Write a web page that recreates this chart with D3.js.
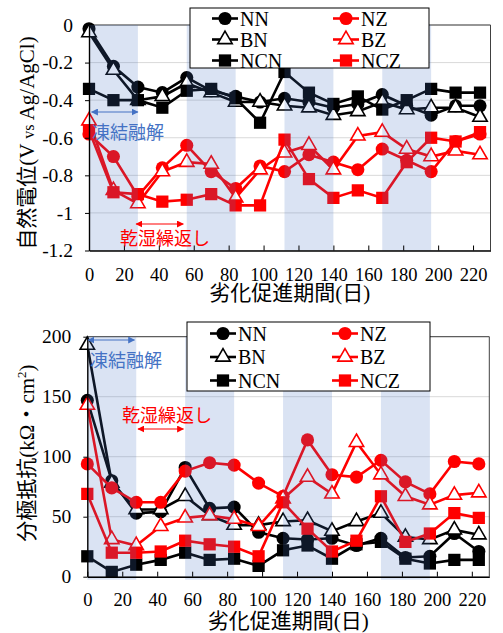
<!DOCTYPE html>
<html>
<head>
<meta charset="utf-8">
<script src="https://cdn.jsdelivr.net/npm/d3@7"></script>
<style>
body { margin: 0; background: #fff; }
svg { display: block; }
</style>
</head>
<body>
<svg id="chart" width="503" height="633"></svg>
<script>
// days of accelerated deterioration
const days = [0, 14, 28, 42, 56, 70, 84, 98, 112, 126, 140, 154, 168, 182, 196, 210, 224]
const seriesNames = ['NN', 'BN', 'NCN', 'NZ', 'BZ', 'NCZ']

// natural potential (V vs Ag/AgCl)
const potNN = [-0.02, -0.22, -0.33, -0.36, -0.28, -0.35, -0.38, -0.41, -0.39, -0.41, -0.44, -0.42, -0.37, -0.43, -0.48, -0.43, -0.43]
const potBN = [-0.04, -0.24, -0.40, -0.38, -0.31, -0.36, -0.41, -0.41, -0.43, -0.44, -0.48, -0.46, -0.41, -0.45, -0.44, -0.44, -0.49]
const potNCN = [-0.34, -0.40, -0.40, -0.44, -0.35, -0.34, -0.39, -0.52, -0.25, -0.36, -0.42, -0.38, -0.45, -0.40, -0.34, -0.36, -0.36]
const potNZ = [-0.58, -0.70, -0.91, -0.76, -0.64, -0.78, -0.87, -0.75, -0.78, -0.69, -0.73, -0.77, -0.66, -0.72, -0.78, -0.62, -0.58]
const potBZ = [-0.51, -0.88, -0.95, -0.78, -0.73, -0.74, -0.92, -0.77, -0.68, -0.64, -0.77, -0.59, -0.57, -0.66, -0.70, -0.67, -0.69]
const potNCZ = [-0.56, -0.89, -0.90, -0.94, -0.93, -0.90, -0.96, -0.96, -0.61, -0.82, -0.92, -0.88, -0.92, -0.73, -0.60, -0.62, -0.57]

// polarization resistance (kΩ・cm²)
const resNN = [147, 80, 53, 54, 91, 57, 58, 37, 32, 31, 32, 26, 32, 16, 17, 36, 21]
const resBN = [193, 78, 56, 56, 67, 51, 43, 43, 46, 47, 38, 46, 53, 33, 31, 39, 35]
const resNCN = [17, 4, 10, 14, 20, 14, 15, 9, 22, 26, 15, 27, 29, 15, 11, 14, 14]
const resNZ = [94, 74, 62, 62, 88, 95, 93, 78, 67, 114, 85, 83, 97, 79, 69, 96, 94]
const resBZ = [143, 31, 26, 42, 49, 51, 48, 42, 65, 83, 69, 112, 85, 67, 60, 68, 70]
const resNCZ = [69, 20, 20, 21, 30, 27, 25, 17, 62, 40, 21, 30, 67, 29, 36, 53, 49]

const xTicks = [0, 20, 40, 60, 80, 100, 120, 140, 160, 180, 200, 220]
const potTicks = [0, -0.2, -0.4, -0.6, -0.8, -1, -1.2]
const resTicks = [0, 50, 100, 150, 200]
const cycleBands = [[0, 28], [56, 84], [112, 140], [168, 196]]

const serif = '"Liberation Serif", "Times New Roman", serif'
const cjk = '"Noto Sans CJK JP", "Noto Sans", sans-serif'
const blue = '#4472C4'
const red = '#FF0000'

const seriesStyle = {
	NN: { color: '#000', shape: 'circle' },
	BN: { color: '#000', shape: 'triangle' },
	NCN: { color: '#000', shape: 'square' },
	NZ: { color: red, shape: 'circle' },
	BZ: { color: red, shape: 'triangle' },
	NCZ: { color: red, shape: 'square' }
}

const svg = d3.select('#chart')

const defs = svg.append('defs')
;[['arrBlue', blue], ['arrRed', red]].forEach(([id, c]) => {
	defs.append('marker').attr('id', id)
		.attr('viewBox', '0 0 10 10').attr('refX', 9).attr('refY', 5)
		.attr('markerWidth', 7).attr('markerHeight', 7)
		.attr('markerUnits', 'userSpaceOnUse')
		.attr('orient', 'auto-start-reverse')
		.append('path').attr('d', 'M0,0 L10,5 L0,10 Z').attr('fill', c)
})

function symbolPath(shape) {
	if (shape === 'circle') return d3.symbol(d3.symbolCircle, 135)()
	if (shape === 'square') return d3.symbol(d3.symbolSquare, 150)()
	return d3.symbol(d3.symbolTriangle, 90)()
}

function drawMarker(sel, name) {
	const st = seriesStyle[name]
	sel.attr('d', symbolPath(st.shape))
		.attr('fill', st.shape === 'triangle' ? '#fff' : st.color)
		.attr('stroke', st.color)
		.attr('stroke-width', st.shape === 'triangle' ? 1.6 : 0)
}

function drawPanel(cfg) {
	const g = svg.append('g')
	const x = d3.scaleLinear().domain([0, 230]).range([cfg.left, cfg.right])
	const y = d3.scaleLinear().domain(cfg.yDomain).range([cfg.bottom, cfg.top])

	// grid
	g.append('g').selectAll('line').data(cfg.yTicks).join('line')
		.attr('x1', cfg.left).attr('x2', cfg.right)
		.attr('y1', d => y(d)).attr('y2', d => y(d))
		.attr('stroke', '#D9D9D9').attr('stroke-width', 1)

	// frame top / right
	g.append('path')
		.attr('d', `M${cfg.left},${cfg.top}H${cfg.right}V${cfg.bottom}`)
		.attr('fill', 'none').attr('stroke', '#404040').attr('stroke-width', 1)

	const line = d3.line().x((d, i) => x(days[i])).y(d => y(d))

	seriesNames.forEach((name, k) => {
		const vals = cfg.series[k]
		const st = seriesStyle[name]
		g.append('path').datum(vals)
			.attr('d', line)
			.attr('fill', 'none').attr('stroke', st.color).attr('stroke-width', 2.6)
		g.append('g').selectAll('path').data(vals).join('path')
			.attr('transform', (d, i) => `translate(${x(days[i])},${y(d)})`)
			.call(drawMarker, name)
	})

	// freeze-thaw periods (translucent overlay)
	g.append('g').selectAll('rect').data(cycleBands).join('rect')
		.attr('x', d => x(d[0])).attr('width', d => x(d[1]) - x(d[0]))
		.attr('y', cfg.top).attr('height', cfg.bottom - cfg.top + cfg.bandExtra)
		.attr('fill', 'rgb(68,114,196)').attr('fill-opacity', 0.2)

	// axes
	const xAxis = g.append('g').attr('transform', `translate(0,${cfg.bottom})`)
		.call(d3.axisBottom(x).tickValues(xTicks).tickSize(-5).tickSizeOuter(0).tickPadding(cfg.xPad))
	const yAxis = g.append('g').attr('transform', `translate(${cfg.left},0)`)
		.call(d3.axisLeft(y).tickValues(cfg.yTicks).tickSize(4).tickSizeOuter(0).tickPadding(12)
			.tickFormat(cfg.yFormat))
	;[xAxis, yAxis].forEach(a => {
		a.attr('font-family', null).attr('font-size', null)
		a.selectAll('path.domain').attr('stroke', '#000').attr('stroke-width', 1.4)
		a.selectAll('.tick line').attr('stroke', '#000').attr('stroke-width', 1)
		a.selectAll('text').style('font-family', serif).attr('fill', '#000')
	})
	xAxis.selectAll('text').style('font-size', '18.5px')
	yAxis.selectAll('text').style('font-size', '19.5px')

	// axis titles
	const xt = g.append('text')
		.attr('x', (cfg.left + cfg.right) / 2).attr('y', cfg.xTitleY)
		.attr('text-anchor', 'middle').style('font-size', '21px').attr('fill', '#000')
	xt.append('tspan').style('font-family', cjk).text('劣化促進期間')
	xt.append('tspan').style('font-family', serif).text('(')
	xt.append('tspan').style('font-family', cjk).text('日')
	xt.append('tspan').style('font-family', serif).text(')')

	const yt = g.append('text')
		.attr('transform', `translate(34,${cfg.yTitleY}) rotate(-90)`)
		.attr('text-anchor', 'middle').style('font-size', '21px').attr('fill', '#000')
	cfg.yTitle.forEach(p => {
		const t = yt.append('tspan').style('font-family', p.cjk ? cjk : serif).text(p.t)
		if (p.size) t.style('font-size', p.size + 'px')
		if (p.dy) t.attr('dy', p.dy)
	})

	// legend
	const lg = cfg.legend
	g.append('rect')
		.attr('x', lg.x).attr('y', lg.y).attr('width', lg.w).attr('height', lg.h)
		.attr('fill', '#fff').attr('stroke', '#000').attr('stroke-width', 1)
	seriesNames.forEach((name, k) => {
		const col = Math.floor(k / 3), row = k % 3
		const lx = lg.x + lg.colX[col], ly = lg.y + lg.rowY0 + row * lg.rowStep
		g.append('line').attr('x1', lx).attr('x2', lx + 26).attr('y1', ly).attr('y2', ly)
			.attr('stroke', seriesStyle[name].color).attr('stroke-width', 2.6)
		g.append('path').attr('transform', `translate(${lx + 13},${ly})`).call(drawMarker, name)
		g.append('text').attr('x', lx + 28).attr('y', ly + 7)
			.style('font-family', serif).style('font-size', '20px').attr('fill', '#000').text(name)
	})

	// annotations
	cfg.notes.forEach(n => {
		g.append('line')
			.attr('x1', x(n.from)).attr('x2', x(n.to)).attr('y1', n.arrowY).attr('y2', n.arrowY)
			.attr('stroke', n.color).attr('stroke-width', 1.2)
			.attr('marker-start', `url(#${n.marker})`).attr('marker-end', `url(#${n.marker})`)
		g.append('text').attr('x', n.textX).attr('y', n.textY)
			.style('font-family', cjk).style('font-size', '18px').attr('fill', n.color).text(n.label)
	})
}

drawPanel({
	left: 89, right: 490.5, top: 25, bottom: 250.5, bandExtra: 0,
	yDomain: [-1.2, 0], yTicks: potTicks,
	yFormat: d => d === 0 ? '0' : String(+d.toFixed(1)),
	series: [potNN, potBN, potNCN, potNZ, potBZ, potNCZ],
	xPad: 17, xTitleY: 300, yTitleY: 143,
	yTitle: [
		{ t: '自然電位', cjk: true },
		{ t: '(V ' },
		{ t: 'vs', size: 16 },
		{ t: ' Ag/AgCl)' }
	],
	legend: { x: 190, y: 8, w: 239, h: 60, colX: [22, 143], rowY0: 10.5, rowStep: 21 },
	notes: [
		{ from: 1.5, to: 28, arrowY: 112, textX: 92, textY: 139, color: blue, marker: 'arrBlue', label: '凍結融解' },
		{ from: 27, to: 54, arrowY: 224, textX: 120, textY: 245, color: red, marker: 'arrRed', label: '乾湿繰返し' }
	]
})

drawPanel({
	left: 87.3, right: 489.3, top: 336.7, bottom: 576.7, bandExtra: 3,
	yDomain: [0, 200], yTicks: resTicks,
	yFormat: d => String(d),
	series: [resNN, resBN, resNCN, resNZ, resBZ, resNCZ],
	xPad: 16.5, xTitleY: 627.5, yTitleY: 453,
	yTitle: [
		{ t: '分極抵抗', cjk: true },
		{ t: '(kΩ' },
		{ t: '・', cjk: true },
		{ t: 'cm' },
		{ t: '2', size: 13, dy: -8 },
		{ t: ')', dy: 8 }
	],
	legend: { x: 187, y: 322, w: 243, h: 69, colX: [23, 145], rowY0: 11.5, rowStep: 23.5 },
	notes: [
		{ from: 0.5, to: 27, arrowY: 340, textX: 90, textY: 367, color: blue, marker: 'arrBlue', label: '凍結融解' },
		{ from: 29, to: 55, arrowY: 429, textX: 122, textY: 422, color: red, marker: 'arrRed', label: '乾湿繰返し' }
	]
})
</script>
</body>
</html>
